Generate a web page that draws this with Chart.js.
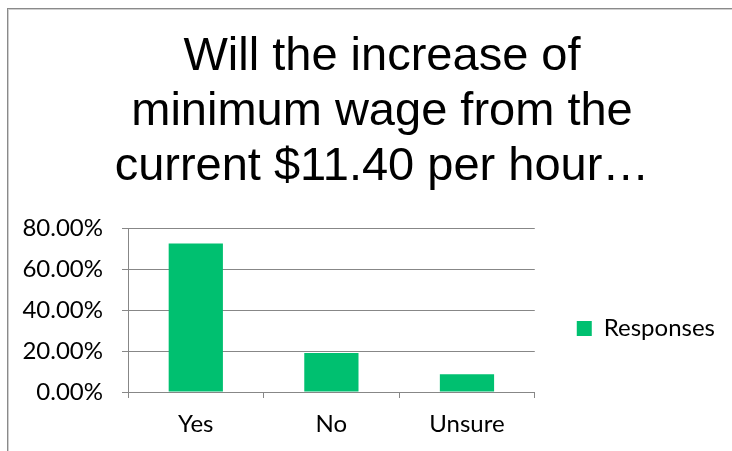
<!DOCTYPE html>
<html>
<head>
<meta charset="utf-8">
<script src="https://cdn.jsdelivr.net/npm/chart.js@4.4.0/dist/chart.umd.min.js"></script>
<style>
  html, body { margin: 0; padding: 0; background: #fff; }
  #wrap { position: relative; width: 732px; height: 451px; overflow: hidden; }
  #frame {
    position: absolute; left: 7px; top: 8px; width: 800px; height: 500px;
    border-top: 1px solid #8a8a8a; border-left: 1px solid #8a8a8a;
    box-shadow: inset 1px 1px 0 #cfcfcf;
  }
  #myChart { position: absolute; left: 0; top: 0; }
</style>
</head>
<body>
<div id="wrap">
  <div id="frame"></div>
  <canvas id="myChart" width="732" height="451"></canvas>
</div>
<script>
const titleLines = ['Will the increase of', 'minimum wage from the', 'current $11.40 per hour\u2026'];
const categories = ['Yes', 'No', 'Unsure'];
const responses = [72.41, 18.97, 8.62];
const seriesName = 'Responses';

const green = '#00C070';
const gray = '#878787';

// the y labels stick out left of the padded axis box, so widen their clip area
const yLabelClip = {
  id: 'yLabelClip',
  afterLayout(chart) { chart.scales.y.left = 0; }
};

const data = {
  labels: categories,
  datasets: [{
    label: seriesName,
    data: responses,
    backgroundColor: green,
    borderColor: green,
    borderWidth: 0,
    categoryPercentage: 1.0,
    barPercentage: 0.4
  }]
};

const config = {
  type: 'bar',
  data,
  plugins: [yLabelClip],
  options: {
    responsive: false,
    animation: false,
    devicePixelRatio: 1,
    layout: { padding: { left: 39, right: 7, top: 0, bottom: 0 } },
    plugins: {
      title: {
        display: true,
        text: titleLines,
        color: '#000',
        font: { family: 'Liberation Sans', size: 47, weight: 'normal', lineHeight: '55px' },
        padding: { top: 30, bottom: 33 }
      },
      legend: {
        position: 'right',
        fullSize: false,
        maxWidth: 300,
        labels: {
          boxWidth: 15,
          boxHeight: 15,
          padding: 42,
          color: '#000',
          font: { family: 'Lato', size: 24 }
        },
        // empty title only pushes the item down, like the original
        title: { display: true, text: '', font: { size: 1, lineHeight: 1 }, padding: { top: 36, bottom: 0 } }
      },
      tooltip: { enabled: false }
    },
    scales: {
      x: {
        afterFit: (scale) => { scale.height = 59; },
        grid: { display: true, drawOnChartArea: false, drawTicks: true, tickLength: 6, color: gray },
        border: { display: true, color: gray },
        ticks: { color: '#000', padding: 12, font: { family: 'Lato', size: 24 } }
      },
      y: {
        min: 0,
        max: 80,
        afterFit: (scale) => { scale.width = 89; },
        grid: { color: gray, tickLength: 6 },
        border: { display: true, color: gray },
        ticks: {
          stepSize: 20,
          color: '#000',
          padding: 19,
          font: { family: 'Lato', size: 24 },
          callback: (v) => v.toFixed(2) + '%'
        }
      }
    }
  }
};

const myChart = new Chart(document.getElementById('myChart'), config);
</script>
</body>
</html>
